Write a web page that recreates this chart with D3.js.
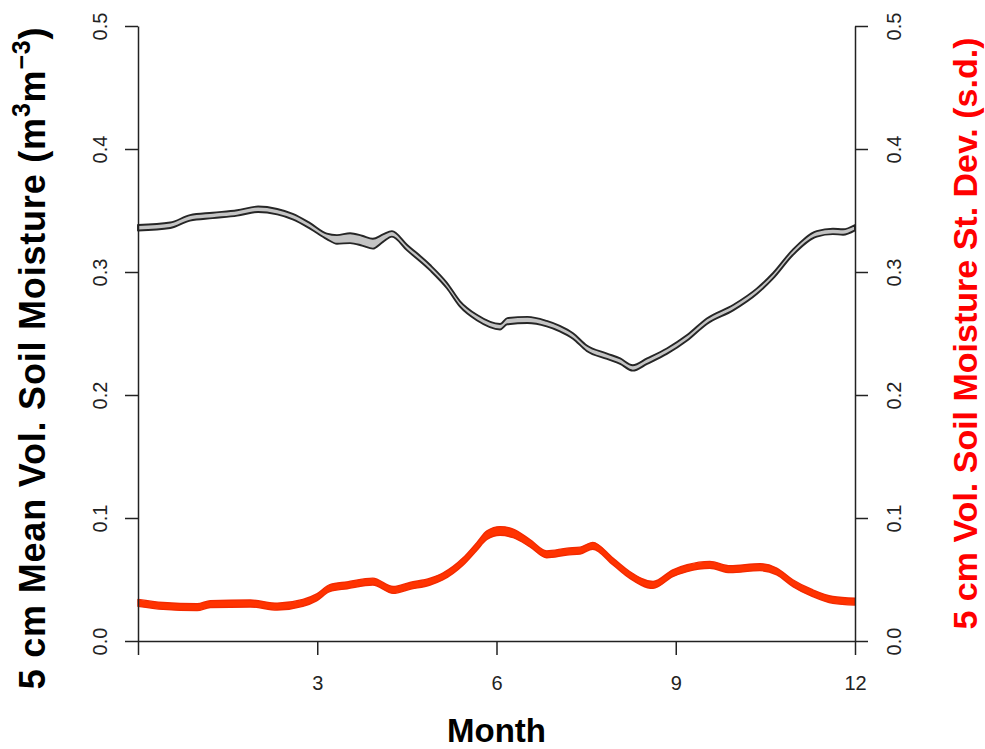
<!DOCTYPE html>
<html>
<head>
<meta charset="utf-8">
<script src="https://cdn.jsdelivr.net/npm/d3@7"></script>
<style>
  body { margin: 0; background: #fff; }
  svg { display: block; font-family: "Liberation Sans", Arial, sans-serif; }
</style>
</head>
<body>
<div id="chart"></div>
<script>
// mean volumetric soil moisture band (month, lower / upper edge)
const greyMonth = [0, 0.54, 0.87, 1.25, 1.66, 2.01, 2.33, 2.59, 2.88, 3.16, 3.33, 3.55, 3.75, 3.93, 4.1, 4.25, 4.5, 4.89, 5.17, 5.39, 5.67, 6.06, 6.18, 6.52, 6.84, 7.06, 7.28, 7.51, 7.85, 8.07, 8.28, 8.52, 8.85, 9.19, 9.52, 9.96, 10.36, 10.63, 10.96, 11.36, 11.63, 11.8, 12];
const greyHigh = [0.3382, 0.3402, 0.3462, 0.3482, 0.3502, 0.3532, 0.3512, 0.3472, 0.3397, 0.3312, 0.3300, 0.3315, 0.3295, 0.3270, 0.3305, 0.3332, 0.3222, 0.3057, 0.2912, 0.2762, 0.2652, 0.2577, 0.2625, 0.2635, 0.2602, 0.2562, 0.2502, 0.2402, 0.2337, 0.2297, 0.2242, 0.2297, 0.2378, 0.2487, 0.2622, 0.2732, 0.2867, 0.2992, 0.3182, 0.3332, 0.3352, 0.3347, 0.3382];
const greyLow = [0.3338, 0.3358, 0.3418, 0.3438, 0.3458, 0.3488, 0.3468, 0.3428, 0.3353, 0.3268, 0.3230, 0.3235, 0.3215, 0.3190, 0.3245, 0.3288, 0.3178, 0.3013, 0.2868, 0.2718, 0.2608, 0.2533, 0.2575, 0.2585, 0.2558, 0.2518, 0.2458, 0.2358, 0.2293, 0.2253, 0.2198, 0.2253, 0.2334, 0.2443, 0.2578, 0.2688, 0.2823, 0.2948, 0.3138, 0.3288, 0.3308, 0.3303, 0.3338];

// standard deviation band
const redMonth = [0, 0.42, 0.99, 1.21, 1.88, 2.33, 2.76, 2.99, 3.21, 3.5, 3.93, 4.27, 4.55, 4.89, 5.1, 5.44, 5.67, 5.84, 6.06, 6.28, 6.56, 6.84, 7.18, 7.4, 7.61, 7.95, 8.23, 8.62, 8.95, 9.19, 9.57, 9.91, 10.41, 10.69, 10.96, 11.29, 11.63, 12];
const redHigh = [0.0338, 0.0313, 0.0303, 0.0328, 0.0333, 0.0308, 0.0338, 0.0383, 0.0458, 0.0481, 0.0511, 0.0443, 0.0476, 0.0511, 0.0552, 0.0676, 0.0800, 0.0895, 0.0930, 0.0910, 0.0825, 0.0733, 0.0755, 0.0763, 0.0802, 0.0674, 0.0565, 0.0484, 0.0579, 0.0620, 0.0647, 0.0612, 0.0628, 0.0593, 0.0498, 0.0417, 0.0362, 0.0348];
const redLow = [0.0282, 0.0257, 0.0247, 0.0272, 0.0277, 0.0252, 0.0282, 0.0327, 0.0402, 0.0425, 0.0455, 0.0387, 0.0420, 0.0455, 0.0496, 0.0616, 0.0736, 0.0825, 0.0860, 0.0840, 0.0765, 0.0677, 0.0699, 0.0707, 0.0746, 0.0618, 0.0509, 0.0428, 0.0523, 0.0564, 0.0591, 0.0556, 0.0572, 0.0537, 0.0442, 0.0361, 0.0306, 0.0292];

const monthTicks = [0, 3, 6, 9, 12];
const valueTicks = [0, 0.1, 0.2, 0.3, 0.4, 0.5];

const W = 985, H = 749;
const svg = d3.select("#chart").append("svg")
  .attr("width", W)
  .attr("height", H);

const x = d3.scaleLinear().domain([0, 12]).range([138, 855]);
const y = d3.scaleLinear().domain([0, 0.5]).range([641, 26]);

// ---- bands ----
const area = d3.area()
  .x(d => x(d.m))
  .y0(d => y(d.lo))
  .y1(d => y(d.hi))
  .curve(d3.curveMonotoneX);

const greyData = greyMonth.map((m, i) => ({ m, lo: greyLow[i], hi: greyHigh[i] }));
const redData = redMonth.map((m, i) => ({ m, lo: redLow[i], hi: redHigh[i] }));

svg.append("path")
  .datum(greyData)
  .attr("d", area)
  .attr("fill", "#c4c4c4")
  .attr("stroke", "#262626")
  .attr("stroke-width", 1.9)
  .attr("stroke-linejoin", "round");

svg.append("path")
  .datum(redData)
  .attr("d", area)
  .attr("fill", "#ff3300")
  .attr("stroke", "#f22a00")
  .attr("stroke-width", 1.4)
  .attr("stroke-linejoin", "round");

// ---- axes ----
function styleAxis(g) {
  g.select(".domain").attr("stroke", "#222").attr("stroke-width", 1.5);
  g.selectAll(".tick line").attr("stroke", "#222").attr("stroke-width", 1.5);
  g.selectAll(".tick text")
    .attr("fill", "#222")
    .style("font-size", "20px")
    .style("font-family", "'Liberation Sans', Arial, sans-serif");
}

const fmt = d3.format(".1f");

const left = svg.append("g")
  .attr("transform", `translate(${x(0)},0)`)
  .call(d3.axisLeft(y).tickValues(valueTicks).tickFormat(fmt).tickSize(13).tickSizeOuter(0))
  .call(styleAxis);
left.selectAll(".tick text")
  .attr("x", 0).attr("y", 0).attr("dy", 0)
  .attr("text-anchor", "middle")
  .attr("transform", "translate(-31,0) rotate(-90)");

const right = svg.append("g")
  .attr("transform", `translate(${x(12)},0)`)
  .call(d3.axisRight(y).tickValues(valueTicks).tickFormat(fmt).tickSize(13).tickSizeOuter(0))
  .call(styleAxis);
right.selectAll(".tick text")
  .attr("x", 0).attr("y", 0).attr("dy", 0)
  .attr("text-anchor", "middle")
  .attr("transform", "translate(46,0) rotate(-90)");

const bottom = svg.append("g")
  .attr("transform", `translate(0,${y(0)})`)
  .call(d3.axisBottom(x).tickValues(monthTicks).tickFormat(d => d === 0 ? "" : d).tickSize(14).tickSizeOuter(0))
  .call(styleAxis);
bottom.selectAll(".tick text")
  .attr("y", 49).attr("dy", 0);

// ---- titles ----
svg.append("text")
  .attr("x", (x(0) + x(12)) / 2)
  .attr("y", 742)
  .attr("text-anchor", "middle")
  .style("font-size", "33px")
  .style("font-weight", "bold")
  .text("Month");

const lt = svg.append("text")
  .attr("transform", `translate(45,358) rotate(-90)`)
  .attr("text-anchor", "middle")
  .style("font-size", "36px")
  .style("letter-spacing", "0.8px")
  .style("font-weight", "bold")
  .attr("fill", "#000");
lt.append("tspan").text("5 cm Mean Vol. Soil Moisture (m");
lt.append("tspan").attr("dy", -15).style("font-size", "25px").text("3");
lt.append("tspan").attr("dy", 15).text("m");
lt.append("tspan").attr("dy", -15).style("font-size", "25px").text("\u22123");
lt.append("tspan").attr("dy", 15).text(")");

svg.append("text")
  .attr("transform", `translate(977,${(y(0) + y(0.5)) / 2}) rotate(-90)`)
  .attr("text-anchor", "middle")
  .style("font-size", "34px")
  .style("font-weight", "bold")
  .attr("fill", "#ff0000")
  .text("5 cm Vol. Soil Moisture St. Dev. (s.d.)");
</script>
</body>
</html>
